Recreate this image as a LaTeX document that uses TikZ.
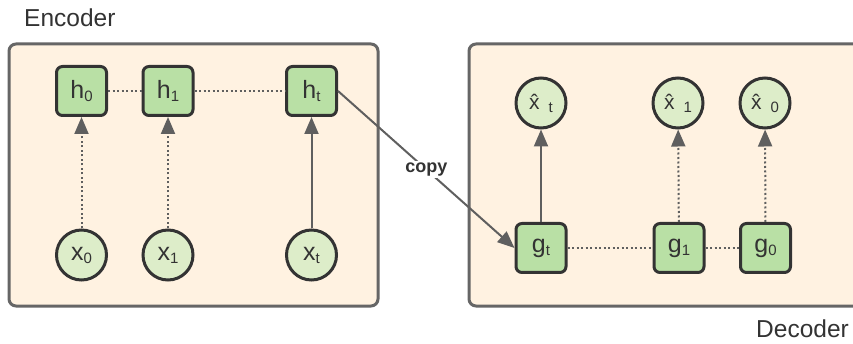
\documentclass[tikz,border=0pt]{standalone}
\usepackage{fontspec}
\setmainfont{Liberation Sans}
\usetikzlibrary{arrows.meta}
\definecolor{contfill}{HTML}{FFF2E1}
\definecolor{contline}{HTML}{666666}
\definecolor{boxfill}{HTML}{B9E0A5}
\definecolor{circfill}{HTML}{DDEDC9}
\definecolor{nodeline}{HTML}{333333}
\definecolor{arrline}{HTML}{5F5F5F}
\definecolor{txt}{HTML}{333333}
\newcommand{\lowsub}[1]{\raisebox{-3pt}{\fontsize{15}{15}\selectfont #1}}
\newcommand{\hatsub}[1]{\^{x}\hspace{9pt}\raisebox{-3pt}{\fontsize{15}{15}\selectfont #1}}
\tikzset{
  container/.style={draw=contline, fill=contfill, line width=3pt, rounded corners=7pt},
  statebox/.style={draw=nodeline, fill=boxfill, line width=3pt, rounded corners=6pt,
    minimum width=50pt, minimum height=49pt, inner sep=0pt, text=txt,
    font=\fontsize{25}{25}\selectfont},
  varcirc/.style={draw=nodeline, fill=circfill, line width=3pt, circle,
    minimum size=50pt, inner sep=0pt, text=txt, font=\fontsize{25}{25}\selectfont},
  hatcirc/.style={varcirc, font=\fontsize{21}{21}\selectfont},
  dotline/.style={draw=arrline, line width=2pt, dash pattern=on 2pt off 2.5pt},
  solidarr/.style={draw=arrline, line width=2pt, -{Triangle[width=14pt,length=17pt]}},
  dotarr/.style={solidarr, dash pattern=on 2pt off 2.5pt},
  title/.style={text=txt, font=\fontsize{24.5}{24.5}\selectfont, inner sep=0pt},
}
\begin{document}
\begin{tikzpicture}[x=1pt,y=-1pt]
\useasboundingbox (0,0) rectangle (853,344);
\clip (0,0) rectangle (853,344);
% containers
\path[container] (9,44) rectangle (378,306);
\path[container] (469,44) rectangle (880,306);
\node[title, anchor=base west] (enc) at (24,27) {Encoder};
\node[title, anchor=base east] (dec) at (849,337) {Decoder};
% encoder
\node[statebox] (h0) at (81.5,91) {h\lowsub{0}};
\node[statebox] (h1) at (168,91) {h\lowsub{1}};
\node[statebox] (ht) at (311.5,91) {h\lowsub{t}};
\node[varcirc] (x0) at (81.5,255) {x\lowsub{0}};
\node[varcirc] (x1) at (168,255) {x\lowsub{1}};
\node[varcirc] (xt) at (311.5,255) {x\lowsub{t}};
\draw[dotline] (h0) -- (h1);
\draw[dotline] (h1) -- (ht);
\draw[dotarr] (x0) -- (h0);
\draw[dotarr] (x1) -- (h1);
\draw[solidarr] (xt) -- (ht);
% decoder
\node[hatcirc] (yt) at (541,103) {\hatsub{t}};
\node[hatcirc] (y1) at (678,103) {\hatsub{1}};
\node[hatcirc] (y0) at (765,103) {\hatsub{0}};
\node[statebox] (gt) at (541,248) {g\lowsub{t}};
\node[statebox] (g1) at (679,248) {g\lowsub{1}};
\node[statebox] (g0) at (765.5,248) {g\lowsub{0}};
\draw[dotline] (gt) -- (g1);
\draw[dotline] (g1) -- (g0);
\draw[solidarr] (gt) -- (yt);
\draw[dotarr] (g1) -- (y1);
\draw[dotarr] (g0) -- (y0);
% copy
\draw[solidarr] (ht.east) -- node[fill=white, text=txt, inner sep=2pt,
  font=\fontsize{18}{18}\selectfont\bfseries] (cp) {copy} (gt.west);
\end{tikzpicture}
\end{document}
